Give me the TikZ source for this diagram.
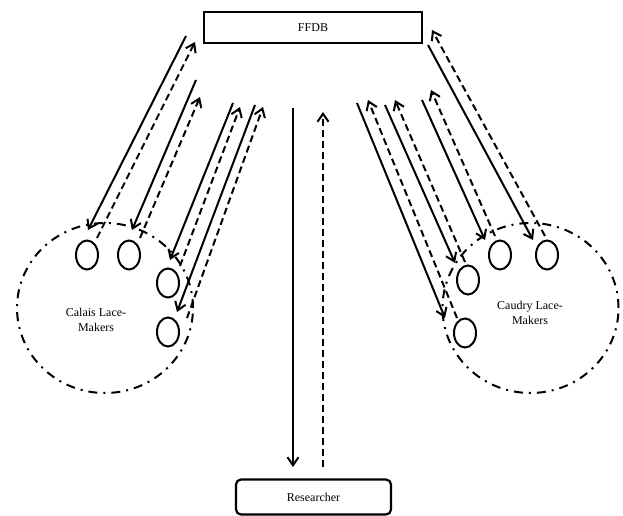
\documentclass[tikz,border=0pt]{standalone}
\usepackage{fontspec}
\setmainfont{Liberation Serif}
\usetikzlibrary{arrows.meta,shapes.geometric}
\tikzset{
  box/.style={draw, line width=2.2pt, minimum width=218pt, minimum height=31pt,
              inner sep=0pt, font=\fontsize{12}{14}\selectfont},
  roundbox/.style={box, rounded corners=5pt, minimum width=155pt, minimum height=35pt},
  member/.style={draw, ellipse, line width=2pt, minimum width=22pt,
                 minimum height=29pt, inner sep=0pt},
  community/.style={draw, ellipse, line width=2pt, inner sep=0pt,
                    dash pattern=on 9pt off 6pt on 2pt off 6pt,
                    minimum width=176pt, minimum height=170pt},
  groupname/.style={align=center, font=\fontsize{12}{15}\selectfont},
  arrow/.style={-{Straight Barb[length=8pt,width=11pt]}, line width=2pt},
  dasharrow/.style={arrow, dash pattern=on 7pt off 4pt},
}

\begin{document}
\begin{tikzpicture}[x=1pt, y=-1pt]
\useasboundingbox (0,0) rectangle (623,516);

% ---------- boxes ----------
\node[box] (ffdb) at (313,27.5) {FFDB};
\node[roundbox] (res) at (313.5,497) {Researcher};

% ---------- the two groups of lace-makers ----------
\node[community] (calais) at (105,308) {};
\node[community] (caudry) at (530.5,308) {};
\node[groupname] (calaisname) at (96,320) {Calais Lace-\\Makers};
\node[groupname] (caudryname) at (530,313) {Caudry Lace-\\Makers};

\node[member] (c1) at (87,255) {};
\node[member] (c2) at (129,255) {};
\node[member] (c3) at (168,283) {};
\node[member] (c4) at (168,332) {};

\node[member] (d1) at (500,255) {};
\node[member] (d2) at (547,255) {};
\node[member] (d3) at (468,280) {};
\node[member] (d4) at (465,333) {};

% ---------- arrow end points ----------
% Calais side
\coordinate (ca1) at (186,36);  \coordinate (ca2) at (88,230);
\coordinate (cb1) at (97,238);  \coordinate (cb2) at (195,42);
\coordinate (ca3) at (196,80);  \coordinate (ca4) at (132,230);
\coordinate (cb3) at (140,238); \coordinate (cb4) at (200,97);
\coordinate (ca5) at (233,103); \coordinate (ca6) at (170,260);
\coordinate (cb5) at (180,266); \coordinate (cb6) at (240,107);
\coordinate (ca7) at (255,105); \coordinate (ca8) at (177,312);
\coordinate (cb7) at (187,318); \coordinate (cb8) at (263,107);
% Caudry side
\coordinate (da1) at (428,45);  \coordinate (da2) at (533,240);
\coordinate (db1) at (545,236); \coordinate (db2) at (432,30);
\coordinate (da3) at (422,100); \coordinate (da4) at (485,240);
\coordinate (db3) at (495,236); \coordinate (db4) at (431,90);
\coordinate (da5) at (385,105); \coordinate (da6) at (455,263);
\coordinate (db5) at (465,262); \coordinate (db6) at (395,100);
\coordinate (da7) at (357,103); \coordinate (da8) at (445,318);
\coordinate (db7) at (457,318); \coordinate (db8) at (368,100);
% researcher link
\coordinate (ra1) at (293,108); \coordinate (ra2) at (293,467);
\coordinate (rb1) at (323,467); \coordinate (rb2) at (323,112);

% ---------- arrows ----------
\foreach \i/\j in {1/2,3/4,5/6,7/8} {
  \draw[arrow] (ca\i) -- (ca\j);
  \draw[dasharrow] (cb\i) -- (cb\j);
  \draw[arrow] (da\i) -- (da\j);
  \draw[dasharrow] (db\i) -- (db\j);
}
\draw[arrow] (ra1) -- (ra2);
\draw[dasharrow] (rb1) -- (rb2);
\end{tikzpicture}
\end{document}
